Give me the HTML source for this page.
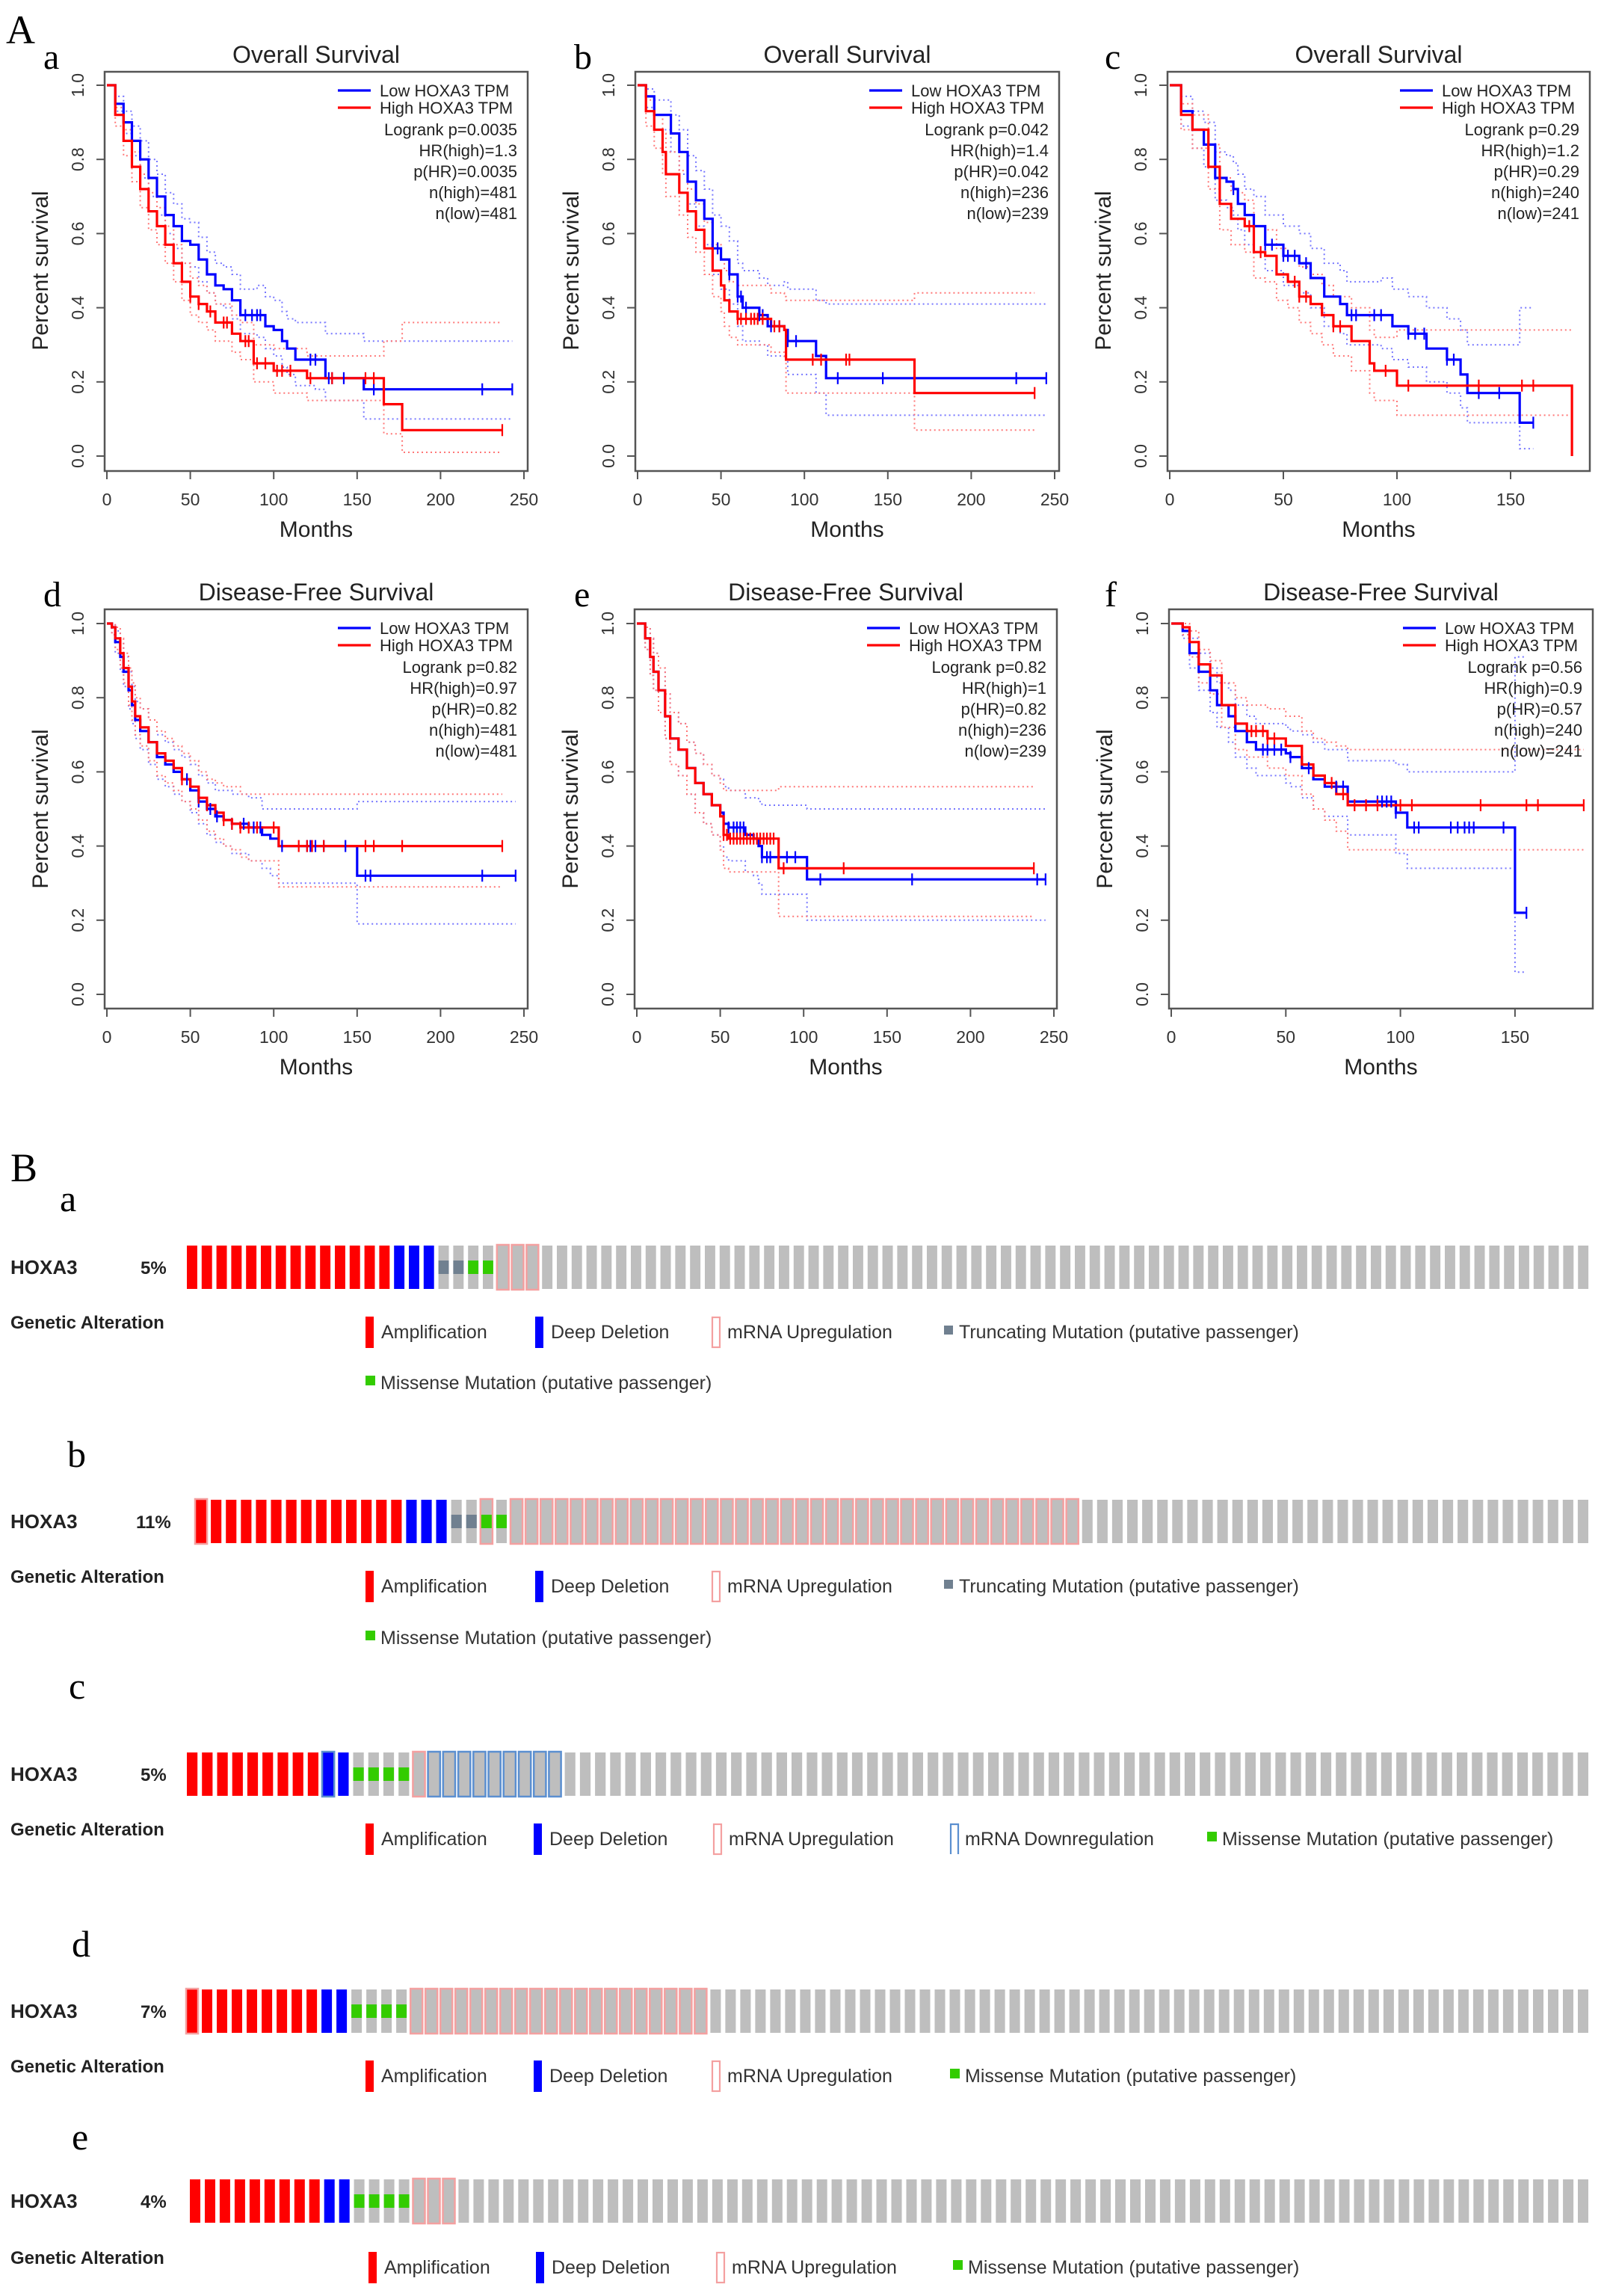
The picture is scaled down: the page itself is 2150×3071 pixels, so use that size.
<!DOCTYPE html>
<html><head><meta charset="utf-8"><style>
html,body{margin:0;padding:0;background:#fff;}
svg{display:block;font-family:"Liberation Sans",sans-serif;}
</style></head><body>
<svg id="fig" width="2150" height="3071" viewBox="0 0 2150 3071" xmlns="http://www.w3.org/2000/svg">
<rect width="2150" height="3071" fill="#fff"/>
<text x="8" y="58" font-family="Liberation Serif" font-size="54">A</text>
<text x="14" y="1580" font-family="Liberation Serif" font-size="54">B</text>
</svg>
<script>
// ---------- KM data ----------
const aLowT=[0,5,10,15,20,25,30,35,40,45,50,55,60,65,70,75,80,90,95,100,105,108,113,125,131,153,154,243];
const aLowS=[1,.95,.9,.85,.8,.75,.7,.65,.62,.58,.57,.53,.49,.46,.45,.42,.38,.38,.35,.34,.31,.29,.26,.26,.21,.21,.18,.18];
const aLowU=[1,.97,.93,.89,.85,.8,.76,.71,.68,.64,.63,.59,.55,.52,.51,.49,.45,.46,.43,.42,.39,.37,.36,.36,.33,.33,.31,.31];
const aLowL=[1,.93,.87,.81,.75,.7,.65,.6,.56,.52,.51,.47,.44,.41,.4,.37,.33,.32,.29,.27,.24,.22,.19,.18,.15,.15,.1,.1];
const aHighT=[0,5,10,15,20,25,30,35,40,45,50,55,60,65,70,75,80,88,100,120,166,177,237];
const aHighS=[1,.92,.85,.78,.72,.66,.62,.57,.52,.47,.43,.41,.39,.36,.36,.33,.31,.25,.23,.21,.14,.07,.07];
const aHighU=[1,.94,.88,.82,.76,.71,.67,.62,.57,.52,.48,.46,.44,.41,.41,.38,.36,.3,.29,.27,.31,.36,.36];
const aHighL=[1,.89,.81,.74,.67,.61,.57,.52,.47,.42,.38,.36,.34,.31,.31,.28,.26,.2,.17,.15,.06,.01,.01];
const aLowC=[83,87,90,92,122,125,133,135,142,160,225,243];
const aHighC=[50,55,62,70,72,83,85,90,95,102,105,110,122,135,155,160,237];

const bLowT=[0,5,10,20,25,30,35,40,45,50,55,60,63,73,78,88,90,107,113,245];
const bLowS=[1,.97,.92,.87,.82,.74,.69,.64,.56,.53,.49,.43,.40,.38,.35,.34,.31,.27,.21,.21];
const bLowU=[1,.99,.96,.92,.88,.81,.77,.72,.65,.62,.58,.52,.5,.48,.46,.47,.45,.42,.41,.41];
const bLowL=[1,.94,.88,.82,.76,.68,.62,.57,.49,.45,.41,.35,.31,.3,.27,.26,.22,.17,.11,.11];
const bHighT=[0,5,10,15,17,25,30,35,40,45,50,52,55,60,80,88,89,166,238];
const bHighS=[1,.93,.88,.82,.76,.71,.66,.61,.56,.5,.46,.42,.39,.37,.35,.34,.26,.17,.17];
const bHighU=[1,.96,.92,.87,.82,.77,.72,.68,.63,.57,.53,.5,.47,.46,.44,.43,.42,.44,.44];
const bHighL=[1,.89,.83,.76,.7,.65,.59,.55,.49,.43,.39,.35,.32,.3,.28,.26,.17,.07,.07];
const bLowC=[48,55,60,62,65,73,75,80,85,90,95,120,147,227,245];
const bHighC=[60,62,65,68,70,72,75,82,85,105,110,125,127,238];

const cLowT=[0,5,10,15,20,25,28,30,33,37,42,50,57,62,68,75,78,93,98,105,113,122,128,131,154,160];
const cLowS=[1,.93,.88,.84,.75,.74,.72,.68,.65,.62,.57,.54,.52,.48,.43,.41,.38,.38,.35,.33,.29,.26,.22,.17,.09,.09];
const cLowU=[1,.97,.93,.9,.82,.81,.79,.76,.72,.7,.65,.62,.6,.56,.52,.5,.47,.48,.45,.43,.4,.37,.34,.3,.4,.4];
const cLowL=[1,.89,.83,.78,.69,.67,.65,.61,.57,.55,.5,.46,.44,.4,.35,.33,.3,.29,.26,.24,.2,.17,.13,.09,.02,.02];
const cHighT=[0,5,10,17,22,27,33,37,42,47,52,57,62,67,72,80,88,90,100,177];
const cHighS=[1,.92,.88,.78,.68,.64,.62,.55,.54,.49,.47,.43,.41,.38,.35,.31,.25,.23,.19,0];
const cHighU=[1,.95,.92,.84,.75,.71,.69,.62,.61,.56,.54,.51,.49,.46,.43,.4,.34,.32,.34,.34];
const cHighL=[1,.88,.83,.72,.61,.57,.55,.48,.47,.42,.4,.36,.33,.3,.27,.23,.17,.15,.11,.11];
const cLowC=[28,42,45,50,52,55,60,80,82,90,93,105,108,112,122,125,136,145,160];
const cHighC=[35,40,55,57,60,72,75,95,105,136,155,160];

const dLowT=[0,3,5,8,10,13,15,17,20,25,30,35,40,45,50,55,60,65,70,75,85,93,98,103,150,245];
const dLowS=[1,.99,.95,.91,.87,.82,.78,.74,.71,.68,.64,.62,.6,.58,.55,.52,.5,.48,.47,.46,.45,.43,.42,.4,.32,.32];
const dLowU=[1,1,.98,.95,.91,.87,.83,.79,.77,.74,.7,.68,.66,.64,.62,.59,.57,.55,.55,.54,.53,.5,.5,.5,.52,.52];
const dLowL=[1,.97,.92,.87,.83,.77,.73,.69,.66,.62,.58,.56,.54,.52,.49,.46,.43,.41,.4,.38,.36,.34,.32,.3,.19,.19];
const dHighT=[0,3,5,8,10,13,15,17,20,25,30,35,40,45,50,55,60,65,70,75,80,85,103,237];
const dHighS=[1,.99,.96,.92,.88,.83,.79,.75,.72,.68,.65,.63,.61,.58,.56,.53,.51,.49,.47,.46,.45,.45,.4,.4];
const dHighU=[1,1,.99,.96,.92,.88,.84,.8,.77,.74,.71,.69,.67,.65,.63,.6,.58,.57,.56,.56,.54,.54,.54,.54];
const dHighL=[1,.97,.93,.88,.84,.78,.74,.7,.67,.63,.59,.57,.55,.52,.5,.47,.44,.42,.4,.39,.37,.36,.29,.29];
const dLowC=[48,55,62,66,75,82,88,92,105,120,122,125,130,143,155,158,225,245];
const dHighC=[45,55,60,70,75,80,85,90,100,115,120,123,130,155,160,177,237];

const eLowT=[0,5,8,10,13,17,20,25,30,35,40,45,50,52,55,65,70,73,75,102,245];
const eLowS=[1,.96,.91,.87,.82,.75,.69,.66,.61,.57,.54,.51,.49,.46,.45,.43,.42,.4,.37,.31,.31];
const eLowU=[1,.99,.96,.92,.88,.81,.76,.73,.68,.65,.62,.59,.58,.56,.55,.53,.53,.52,.51,.5,.5];
const eLowL=[1,.93,.86,.82,.76,.69,.62,.59,.54,.49,.46,.43,.4,.37,.36,.33,.32,.3,.27,.2,.2];
const eHighT=[0,5,8,10,13,17,20,25,30,35,40,45,50,52,55,85,238];
const eHighS=[1,.96,.91,.87,.82,.75,.69,.66,.61,.57,.54,.51,.48,.43,.42,.34,.34];
const eHighU=[1,.99,.96,.92,.88,.81,.76,.73,.68,.65,.62,.59,.57,.55,.55,.56,.56];
const eHighL=[1,.93,.86,.82,.76,.69,.62,.59,.54,.49,.46,.43,.39,.34,.33,.21,.21];
const eLowC=[55,58,60,62,64,75,78,80,90,95,110,165,240,245];
const eHighC=[52,54,56,58,60,62,64,66,68,70,72,74,76,78,80,82,88,124,238];

const fLowT=[0,5,8,12,17,20,25,28,33,37,50,52,57,62,67,77,98,103,150,155];
const fLowS=[1,.98,.92,.87,.82,.78,.75,.71,.68,.66,.65,.64,.61,.58,.56,.52,.49,.45,.22,.22];
const fLowU=[1,1,.96,.92,.88,.84,.82,.78,.75,.73,.72,.71,.7,.68,.66,.63,.62,.6,.91,.91];
const fLowL=[1,.96,.88,.82,.76,.72,.68,.64,.61,.59,.57,.56,.53,.5,.48,.43,.38,.34,.06,.06];
const fHighT=[0,5,8,12,17,22,28,33,42,50,57,62,67,72,77,180];
const fHighS=[1,.99,.95,.89,.86,.78,.73,.71,.69,.67,.62,.59,.57,.54,.51,.51];
const fHighU=[1,1,.98,.93,.9,.84,.8,.78,.77,.75,.71,.69,.68,.67,.66,.66];
const fHighL=[1,.97,.91,.84,.81,.72,.66,.64,.61,.59,.54,.5,.47,.44,.39,.39];
const fLowC=[40,42,45,48,52,60,72,75,90,92,94,96,98,106,108,122,125,128,130,132,145,155];
const fHighC=[35,37,40,42,45,70,75,80,85,90,100,105,135,155,160,180];

const xTicksLong=[0,50,100,150,200,250];
const xTicksShort=[0,50,100,150];
const yTicks=[0,0.2,0.4,0.6,0.8,1.0];
const yTickLabels=["0.0","0.2","0.4","0.6","0.8","1.0"];

const statsA=["Logrank p=0.0035","HR(high)=1.3","p(HR)=0.0035","n(high)=481","n(low)=481"];
const statsB=["Logrank p=0.042","HR(high)=1.4","p(HR)=0.042","n(high)=236","n(low)=239"];
const statsC=["Logrank p=0.29","HR(high)=1.2","p(HR)=0.29","n(high)=240","n(low)=241"];
const statsD=["Logrank p=0.82","HR(high)=0.97","p(HR)=0.82","n(high)=481","n(low)=481"];
const statsE=["Logrank p=0.82","HR(high)=1","p(HR)=0.82","n(high)=236","n(low)=239"];
const statsF=["Logrank p=0.56","HR(high)=0.9","p(HR)=0.57","n(high)=240","n(low)=241"];

// ---------- Oncoprint data ----------
const rowA=[['amp',14],['del',3],['trunc',2],['miss',2],['up',3]];
const rowB=[['ampup',1],['amp',13],['del',3],['trunc',2],['upmiss',1],['miss',1],['up',38]];
const rowC=[['amp',9],['deldown',1],['del',1],['miss',4],['up',1],['down',9]];
const rowD=[['ampup',1],['amp',8],['del',2],['miss',4],['up',20]];
const rowE=[['amp',9],['del',2],['miss',4],['up',3]];
const rowTotals=[95,93,93,94,94];
const rowPct=["5%","11%","5%","7%","4%"];

const NS="http://www.w3.org/2000/svg";
const svg=document.getElementById('fig');
function el(tag,attrs,parent,txt){const e=document.createElementNS(NS,tag);for(const k in attrs)e.setAttribute(k,attrs[k]);if(txt!==undefined)e.textContent=txt;(parent||svg).appendChild(e);return e;}

function stepPath(T,S,xs,ys){let d='M'+xs(T[0]).toFixed(1)+','+ys(S[0]).toFixed(1);for(let i=1;i<T.length;i++){d+=' H'+xs(T[i]).toFixed(1)+' V'+ys(S[i]).toFixed(1);}return d;}
function stepAt(T,S,t){let v=S[0];for(let i=0;i<T.length;i++){if(T[i]<=t)v=S[i];}return v;}

function kmPanel(p){
  const g=el('g',{});
  
  
  const xs=t=>p.x0+t*p.ppm, ys=s=>p.y0-(p.y0-p.y1)*s;
  // panel letter
  const lt=el('text',{x:p.lx,y:p.top-4,'font-family':'Liberation Serif','font-size':48},g,p.id);
  
  
  const tt=el('text',{x:(p.bl+p.br)/2,y:p.top-12,'text-anchor':'middle','font-size':32,fill:'#222'},g,p.title);
  
  
  // box
  const bx=el('rect',{x:p.bl,y:p.top,width:p.br-p.bl,height:p.bot-p.top,fill:'none',stroke:'#555','stroke-width':2.5},g);
  
  
  // y ticks
  yTicks.forEach((v,i)=>{
    el('line',{x1:p.bl-11,x2:p.bl,y1:ys(v),y2:ys(v),stroke:'#555','stroke-width':2},g);
    const t=el('text',{transform:`translate(${p.bl-28},${ys(v)}) rotate(-90)`,'text-anchor':'middle','font-size':23,fill:'#333'},g,yTickLabels[i]);
    
    
  });
  p.xt.forEach(v=>{
    el('line',{x1:xs(v),x2:xs(v),y1:p.bot,y2:p.bot+11,stroke:'#555','stroke-width':2},g);
    const t=el('text',{x:xs(v),y:p.bot+46,'text-anchor':'middle','font-size':23,fill:'#333'},g,String(v));
    
    
  });
  const yl=el('text',{transform:`translate(${p.bl-76},${(p.y0+p.y1)/2}) rotate(-90)`,'text-anchor':'middle','font-size':30,fill:'#222'},g,'Percent survival');
  
  
  const xl=el('text',{x:(p.bl+p.br)/2,y:p.bot+88,'text-anchor':'middle','font-size':30,fill:'#222'},g,'Months');
  
  
  // CIs
  [[p.lowT,p.lowU,'#7777ff'],[p.lowT,p.lowL,'#7777ff'],[p.highT,p.highU,'#ff7777'],[p.highT,p.highL,'#ff7777']].forEach(c=>{
    const ci=el('path',{d:stepPath(c[0],c[1],xs,ys),fill:'none',stroke:c[2],'stroke-width':2,'stroke-dasharray':'2,4'},g);
    
    
  });
  // curves
  const lc=el('path',{d:stepPath(p.lowT,p.lowS,xs,ys),fill:'none',stroke:'#0000ff','stroke-width':3.2},g);
  
  
  const hc=el('path',{d:stepPath(p.highT,p.highS,xs,ys),fill:'none',stroke:'#ff0000','stroke-width':3.2},g);
  
  
  p.lowC.forEach(t=>{const y=ys(stepAt(p.lowT,p.lowS,t));
    const m=el('line',{x1:xs(t),x2:xs(t),y1:y-8,y2:y+8,stroke:'#0000ff','stroke-width':2.2},g);
    
    });
  p.highC.forEach(t=>{const y=ys(stepAt(p.highT,p.highS,t));
    const m=el('line',{x1:xs(t),x2:xs(t),y1:y-8,y2:y+8,stroke:'#ff0000','stroke-width':2.2},g);
    
    });
  // legend
  const lg=el('g',{},g);
  
  
  const L=p.br-254, TX=p.br-198, RX=p.br-14;
  el('line',{x1:L,x2:L+44,y1:p.top+25,y2:p.top+25,stroke:'#0000ff','stroke-width':3.2},lg);
  el('line',{x1:L,x2:L+44,y1:p.top+48,y2:p.top+48,stroke:'#ff0000','stroke-width':3.2},lg);
  el('text',{x:TX,y:p.top+33,'font-size':22,fill:'#222'},lg,'Low HOXA3 TPM');
  el('text',{x:TX,y:p.top+56,'font-size':22,fill:'#222'},lg,'High HOXA3 TPM');
  p.stats.forEach((s,i)=>{el('text',{x:RX,y:p.top+85+i*28,'text-anchor':'end','font-size':22,fill:'#222'},lg,s);});
}

const R1={top:96,bot:630,y1:114,y0:610}, R2={top:815,bot:1349,y1:834,y0:1330};
kmPanel(Object.assign({id:'a',title:'Overall Survival',lx:58,bl:140,br:706,x0:143,ppm:2.232,xt:xTicksLong,lowT:aLowT,lowS:aLowS,lowU:aLowU,lowL:aLowL,highT:aHighT,highS:aHighS,highU:aHighU,highL:aHighL,lowC:aLowC,highC:aHighC,stats:statsA},R1));
kmPanel(Object.assign({id:'b',title:'Overall Survival',lx:768,bl:850,br:1417,x0:853,ppm:2.232,xt:xTicksLong,lowT:bLowT,lowS:bLowS,lowU:bLowU,lowL:bLowL,highT:bHighT,highS:bHighS,highU:bHighU,highL:bHighL,lowC:bLowC,highC:bHighC,stats:statsB},R1));
kmPanel(Object.assign({id:'c',title:'Overall Survival',lx:1478,bl:1562,br:2127,x0:1565,ppm:3.04,xt:xTicksShort,lowT:cLowT,lowS:cLowS,lowU:cLowU,lowL:cLowL,highT:cHighT,highS:cHighS,highU:cHighU,highL:cHighL,lowC:cLowC,highC:cHighC,stats:statsC},R1));
kmPanel(Object.assign({id:'d',title:'Disease-Free Survival',lx:58,bl:140,br:706,x0:143,ppm:2.232,xt:xTicksLong,lowT:dLowT,lowS:dLowS,lowU:dLowU,lowL:dLowL,highT:dHighT,highS:dHighS,highU:dHighU,highL:dHighL,lowC:dLowC,highC:dHighC,stats:statsD},R2));
kmPanel(Object.assign({id:'e',title:'Disease-Free Survival',lx:768,bl:849,br:1414,x0:852,ppm:2.232,xt:xTicksLong,lowT:eLowT,lowS:eLowS,lowU:eLowU,lowL:eLowL,highT:eHighT,highS:eHighS,highU:eHighU,highL:eHighL,lowC:eLowC,highC:eHighC,stats:statsE},R2));
kmPanel(Object.assign({id:'f',title:'Disease-Free Survival',lx:1478,bl:1564,br:2131,x0:1567,ppm:3.066,xt:xTicksShort,lowT:fLowT,lowS:fLowS,lowU:fLowU,lowL:fLowL,highT:fHighT,highS:fHighS,highU:fHighU,highL:fHighL,lowC:fLowC,highC:fHighC,stats:statsF},R2));

// ---------- Oncoprints ----------
const AMP='#ff0000',DEL='#0000ff',GRAY='#bebebe',UP='#f4a0a0',DOWN='#5b8fd0',TRUNC='#708090',MISS='#33cc00';
const rowsData=[rowA,rowB,rowC,rowD,rowE];
const rowY=[1695,2035,2373,2690,2944];
const rowX0=[250,262,250,250,254];
const rowLetters=['a','b','c','d','e'];
const letterPos=[[80,1620],[90,1962],[92,2272],[96,2617],[96,2875]];
const legendY=[[1781,1849],[2121,2190],[2459],[2776],[3032]];
const legendItems=[
 [['amp',489,'Amplification'],['del',716,'Deep Deletion'],['up',952,'mRNA Upregulation'],['trunc',1263,'Truncating Mutation (putative passenger)'],['miss2',489,'Missense Mutation (putative passenger)']],
 [['amp',489,'Amplification'],['del',716,'Deep Deletion'],['up',952,'mRNA Upregulation'],['trunc',1263,'Truncating Mutation (putative passenger)'],['miss2',489,'Missense Mutation (putative passenger)']],
 [['amp',489,'Amplification'],['del',714,'Deep Deletion'],['up',954,'mRNA Upregulation'],['down',1271,'mRNA Downregulation'],['miss',1615,'Missense Mutation (putative passenger)']],
 [['amp',489,'Amplification'],['del',714,'Deep Deletion'],['up',952,'mRNA Upregulation'],['miss',1271,'Missense Mutation (putative passenger)']],
 [['amp',493,'Amplification'],['del',717,'Deep Deletion'],['up',958,'mRNA Upregulation'],['miss',1275,'Missense Mutation (putative passenger)']]
];

rowsData.forEach((row,ri)=>{
  const g=el('g',{});
  
  
  const lt=el('text',{x:letterPos[ri][0],y:letterPos[ri][1],'font-family':'Liberation Serif','font-size':50},g,rowLetters[ri]);
  
  
  const cy=rowY[ri];
  const gn=el('text',{x:14,y:cy+9,'font-size':26,'font-weight':'bold',fill:'#222'},g,'HOXA3');
  
  
  const pc=el('text',{x:ri===1?182:188,y:cy+9,'font-size':24,'font-weight':'bold',fill:'#222'},g,rowPct[ri]);
  
  
  const types=[];row.forEach(([t,n])=>{for(let k=0;k<n;k++)types.push(t);});
  const total=rowTotals[ri];while(types.length<total)types.push('none');
  const pitch=(2131-rowX0[ri])/total, bw=pitch*0.7, h=58, y0=cy-h/2;
  types.forEach((t,i)=>{
    const x=rowX0[ri]+i*pitch;
    let fill=GRAY;if(t==='amp'||t==='ampup')fill=AMP;if(t==='del'||t==='deldown')fill=DEL;
    const b=el('rect',{x:x.toFixed(1),y:y0,width:bw.toFixed(1),height:h,fill:fill},g);
    
    
    if(t==='up'||t==='ampup'||t==='upmiss'){el('rect',{x:(x-1).toFixed(1),y:y0-1,width:(bw+2).toFixed(1),height:h+2,fill:'none',stroke:UP,'stroke-width':2.5},g);}
    if(t==='down'||t==='deldown'){el('rect',{x:(x-1).toFixed(1),y:y0-1,width:(bw+2).toFixed(1),height:h+2,fill:'none',stroke:DOWN,'stroke-width':2.5},g);}
    if(t==='trunc')el('rect',{x:x.toFixed(1),y:cy-9,width:bw.toFixed(1),height:18,fill:TRUNC},g);
    if(t==='miss'||t==='upmiss')el('rect',{x:x.toFixed(1),y:cy-9,width:bw.toFixed(1),height:18,fill:MISS},g);
  });
  // legend
  const lg=el('g',{},g);
  
  
  const ly=legendY[ri][0];
  el('text',{x:14,y:ly-4,'font-size':24,'font-weight':'bold',fill:'#222'},lg,'Genetic Alteration');
  legendItems[ri].forEach(([t,x,label])=>{
    const yy=(t==='miss2')?legendY[ri][1]:ly;
    if(t==='amp')el('rect',{x:x,y:yy-20,width:11,height:42,fill:AMP},lg);
    if(t==='del')el('rect',{x:x,y:yy-20,width:11,height:42,fill:DEL},lg);
    if(t==='up')el('rect',{x:x+1,y:yy-19,width:10,height:40,fill:'none',stroke:UP,'stroke-width':2.2},lg);
    if(t==='down')el('path',{d:`M${x+1},${yy+21} V${yy-19} H${x+11} V${yy+21}`,fill:'none',stroke:DOWN,'stroke-width':2.2},lg);
    if(t==='trunc')el('rect',{x:x,y:yy-8,width:12,height:12,fill:TRUNC},lg);
    if(t==='miss'||t==='miss2')el('rect',{x:x,y:yy-9,width:13,height:13,fill:MISS},lg);
    const tx=(t==='trunc'||t==='miss'||t==='miss2'||t==='down')?x+20:x+21;
    const tt=el('text',{x:tx,y:yy+9,'font-size':25,fill:'#333'},lg,label);
    
    
  });
});
</script>
</body></html>
